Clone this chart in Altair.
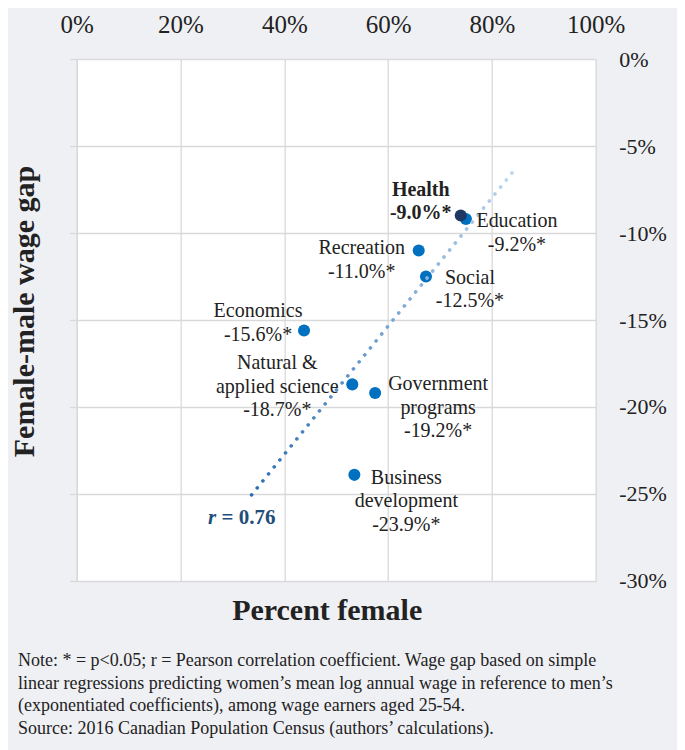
import altair as alt
import pandas as pd

# ---- data ----
CATEGORIES = ["Health", "Education", "Recreation", "Social", "Economics",
              "Natural & applied science", "Government programs", "Business development"]
DISPLAY_NAMES = ["Health", "Education", "Recreation", "Social", "Economics",
                 "Natural &\napplied science", "Government\nprograms", "Business\ndevelopment"]
PCT_FEMALE = [74.0, 75.0, 65.9, 67.3, 43.8, 53.1, 57.5, 53.5]
WAGE_GAP = [-9.0, -9.2, -11.0, -12.5, -15.6, -18.7, -19.2, -23.9]
HIGHLIGHT = "Health"
R_VALUE = "0.76"
TREND_EXTENT = [33.7, 84.1]
X_TICKS = [0, 20, 40, 60, 80, 100]
Y_TICKS = [-30, -25, -20, -15, -10, -5, 0]
NOTE_LINES = [
    "Note: * = p<0.05; r = Pearson correlation coefficient. Wage gap based on simple",
    "linear regressions predicting women\u2019s mean log annual wage in reference to men\u2019s",
    "(exponentiated coefficients), among wage earners aged 25-54.",
    "Source: 2016 Canadian Population Census (authors\u2019 calculations).",
]

df = pd.DataFrame({"category": CATEGORIES, "name": DISPLAY_NAMES,
                   "pct": PCT_FEMALE, "gap": WAGE_GAP})
df["label"] = [f"{n}\n{g:.1f}%*" for n, g in zip(DISPLAY_NAMES, WAGE_GAP)]
df["hl"] = [1 if c == HIGHLIGHT else 0 for c in CATEGORIES]

# ---- style ----
FONT = "Liberation Serif"
TXT = "#222222"
GRID = "#d9d9d9"
BLUE = "#0070c0"
NAVY = "#1f3864"
RCOL = "#1f4e79"

# label placement (dx, first-baseline dy, bold)
PLACE = {
    "Health": (-40, -20, True),
    "Education": (51, 8, False),
    "Recreation": (-57, 4, False),
    "Social": (44, 7, False),
    "Economics": (-46, -13, False),
    "Natural & applied science": (-75, -15, False),
    "Government programs": (63, -3, False),
    "Business development": (52, 9, False),
}

xs = alt.Scale(domain=[0, 100], nice=False, zero=False)
ys = alt.Scale(domain=[-30, 0], nice=False, zero=False)

base = alt.Chart(df)

points = base.mark_circle(size=145, opacity=1).encode(
    x=alt.X("pct:Q", scale=xs, axis=alt.Axis(
        orient="top", values=X_TICKS, labelExpr="datum.value + '%'", title=None,
        grid=True, gridColor=GRID, gridWidth=1.3, ticks=False, tickSize=0, domain=False,
        labelFont=FONT, labelFontSize=25, labelColor=TXT, labelPadding=22,
        labelFlush=False, labelOverlap=False)),
    y=alt.Y("gap:Q", scale=ys, axis=alt.Axis(
        orient="right", values=Y_TICKS, labelExpr="datum.value + '%'", title=None,
        grid=True, gridColor=GRID, gridWidth=1.3, ticks=False, tickSize=0, domain=False,
        labelFont=FONT, labelFontSize=22, labelColor=TXT, labelPadding=23,
        labelAlign="left", labelFlush=False, labelOverlap=False)),
    color=alt.condition(alt.datum.category == HIGHLIGHT, alt.value(NAVY), alt.value(BLUE)),
    order=alt.Order("hl:Q"),
)

trend = base.transform_regression("pct", "gap", extent=TREND_EXTENT).mark_line(
    stroke=alt.Gradient(gradient="linear",
                        stops=[alt.GradientStop(color="#2a6db3", offset=0),
                               alt.GradientStop(color="#bdd7ee", offset=1)],
                        x1=0, y1=1, x2=1, y2=0),
    strokeWidth=3.6, strokeDash=[0.1, 8.9], strokeCap="round",
).encode(
    x=alt.X("pct:Q", scale=xs, axis=alt.Axis(
        orient="bottom", labels=False, ticks=False, domain=False, grid=False,
        title="Percent female", titleFont=FONT, titleFontSize=30, titleFontWeight="bold",
        titleColor=TXT, titlePadding=15, titleX=250)),
    y=alt.Y("gap:Q", scale=ys, axis=alt.Axis(
        orient="left", labels=False, ticks=True, tickSize=7, tickColor=GRID, tickWidth=1.3,
        domain=True, domainColor=GRID, domainWidth=1.3, grid=False, values=Y_TICKS,
        title="Female-male wage gap", titleFont=FONT, titleFontSize=30,
        titleFontWeight="bold", titleColor=TXT, titlePadding=30, titleY=252)),
)

labels = []
for cat in CATEGORIES:
    dx, dy, bold = PLACE[cat]
    labels.append(
        base.transform_filter(alt.datum.category == cat).mark_text(
            align="center", baseline="alphabetic", dx=dx, dy=dy, font=FONT, fontSize=20,
            fontWeight="bold" if bold else "normal", color=TXT, lineBreak="\n",
            lineHeight=23.5,
        ).encode(
            x=alt.X("pct:Q", scale=xs, axis=None),
            y=alt.Y("gap:Q", scale=ys, axis=None),
            text="label:N",
        )
    )

r_base = base.transform_regression("pct", "gap", extent=TREND_EXTENT).transform_window(
    rk="rank()", sort=[alt.SortField("pct", order="ascending")]
).transform_filter("datum.rk == 1")

r1 = r_base.mark_text(text="r", fontStyle="italic", fontWeight="bold", align="right",
                      baseline="alphabetic", dx=-35.5, dy=29, font=FONT, fontSize=21,
                      color=RCOL).encode(
    x=alt.X("pct:Q", scale=xs, axis=None), y=alt.Y("gap:Q", scale=ys, axis=None))
r2 = r_base.mark_text(text="= " + R_VALUE, fontWeight="bold", align="left",
                      baseline="alphabetic", dx=-30, dy=29, font=FONT, fontSize=21,
                      color=RCOL).encode(
    x=alt.X("pct:Q", scale=xs, axis=None), y=alt.Y("gap:Q", scale=ys, axis=None))

chart = alt.layer(points, trend, *labels, r1, r2).resolve_axis(
    x="independent", y="independent"
).properties(
    width=519, height=522,
    background="#eff0f4",
    padding={"left": 68.7, "top": 51, "right": 81, "bottom": 169},
    autosize=alt.AutoSizeParams(type="none"),
    title=alt.TitleParams(NOTE_LINES, orient="bottom", anchor="start", frame="group",
                          dx=-58.7, offset=26, font=FONT, fontSize=18,
                          fontWeight="normal", color=TXT, lineHeight=22.7),
).configure_view(fill="white", stroke=None)

chart.save("out.html", embed_options={"renderer": "svg", "actions": False})
